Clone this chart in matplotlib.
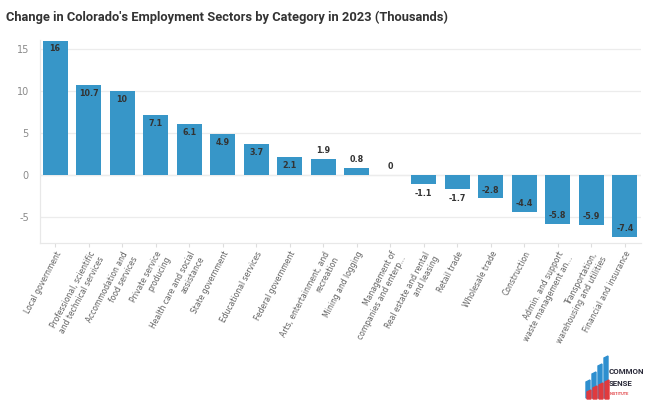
import matplotlib
matplotlib.use("Agg")
import matplotlib.pyplot as plt
from matplotlib.patches import Polygon

categories = [
    "Local government",
    "Professional, scientific\nand technical services",
    "Accommodation and\nfood services",
    "Private service\nproducing",
    "Health care and social\nassistance",
    "State government",
    "Educational services",
    "Federal government",
    "Arts, entertainment, and\nrecreation",
    "Mining and logging",
    "Management of\ncompanies and enterp...",
    "Real estate and rental\nand leasing",
    "Retail trade",
    "Wholesale trade",
    "Construction",
    "Admin. and support\nwaste management an...",
    "Transportation,\nwarehousing and utilities",
    "Financial and insurance",
]
values = [16, 10.7, 10, 7.1, 6.1, 4.9, 3.7, 2.1, 1.9, 0.8, 0, -1.1, -1.7, -2.8, -4.4, -5.8, -5.9, -7.4]
yticks = [-5, 0, 5, 10, 15]

W, H = 646, 400
fig = plt.figure(figsize=(W / 100, H / 100), dpi=100)
ax = fig.add_axes([40 / W, (H - 243) / H, 601 / W, 203 / H])

bar_color = "#3796c8"
x = list(range(len(categories)))
ax.bar(x, values, width=0.75, color=bar_color, edgecolor="none", zorder=3)

ax.set_xlim(-0.45, len(categories) - 1 + 0.48)
ax.set_ylim(-8.1, 16.07)
ax.set_yticks(yticks)
ax.set_yticklabels([str(t) for t in yticks])
ax.grid(axis="y", color="#ececec", linewidth=0.9, zorder=0)
ax.axhline(0, color="#e6e6e6", linewidth=0.9, zorder=1)

for side in ["top", "right"]:
    ax.spines[side].set_visible(False)
for side in ["left", "bottom"]:
    ax.spines[side].set_color("#e8e8e8")
    ax.spines[side].set_linewidth(0.9)

ax.tick_params(axis="y", length=0, labelsize=7, labelcolor="#8a8a8a", pad=8)
ax.tick_params(axis="x", length=3, color="#dddddd", width=0.8, pad=2)
ax.set_xticks(x)
ax.set_xticklabels(categories, rotation=62, ha="right", va="top",
                   rotation_mode="anchor", fontsize=5.5, color="#606060",
                   multialignment="right")

for xi, v in zip(x, values):
    label = f"{v:g}"
    if abs(v) >= 2:
        off = -6 if v > 0 else 6
    else:
        off = 6 if v >= 0 else -7
    ax.annotate(label, (xi, v), xytext=(0, off), textcoords="offset points",
                ha="center", va="center", fontsize=5.8, fontweight="bold",
                color="#333333", zorder=4)

fig.text(6 / W, 1 - 17 / H, "Change in Colorado's Employment Sectors by Category in 2023 (Thousands)",
         fontsize=9.3, fontweight="bold", family="Roboto", color="#333333",
         ha="left", va="center")

# Logo (Common Sense Institute)
def px(xp, yp):
    return (xp / W, 1 - yp / H)

blue = "#2e8fcf"
red = "#e03a3e"
bars = [(586, 382), (592, 374), (598, 366), (604, 358)]
for bx, top in bars:
    poly = Polygon([px(bx, 398), px(bx + 4, 398), px(bx + 4, top - 2), px(bx, top)],
                   closed=True, transform=fig.transFigure, color=blue, zorder=5)
    fig.patches.append(poly)
reds = [(587, 390), (593, 386), (599, 383), (605, 380)]
for bx, top in reds:
    poly = Polygon([px(bx, 399), px(bx + 4, 399), px(bx + 4, top), px(bx, top + 2)],
                   closed=True, transform=fig.transFigure, color=red, zorder=6)
    fig.patches.append(poly)
fig.text(609 / W, 1 - 372 / H, "COMMON", fontsize=5.7, fontweight="bold",
         family="Roboto", color="#2b2b3a", ha="left", va="center")
fig.text(609 / W, 1 - 384 / H, "SENSE", fontsize=5.7, fontweight="bold",
         family="Roboto", color="#2b2b3a", ha="left", va="center")
fig.text(609.5 / W, 1 - 394 / H, "INSTITUTE", fontsize=2.8, fontweight="bold",
         family="Roboto", color=red, ha="left", va="center")

fig.savefig("out.png", dpi=100, facecolor="white")
